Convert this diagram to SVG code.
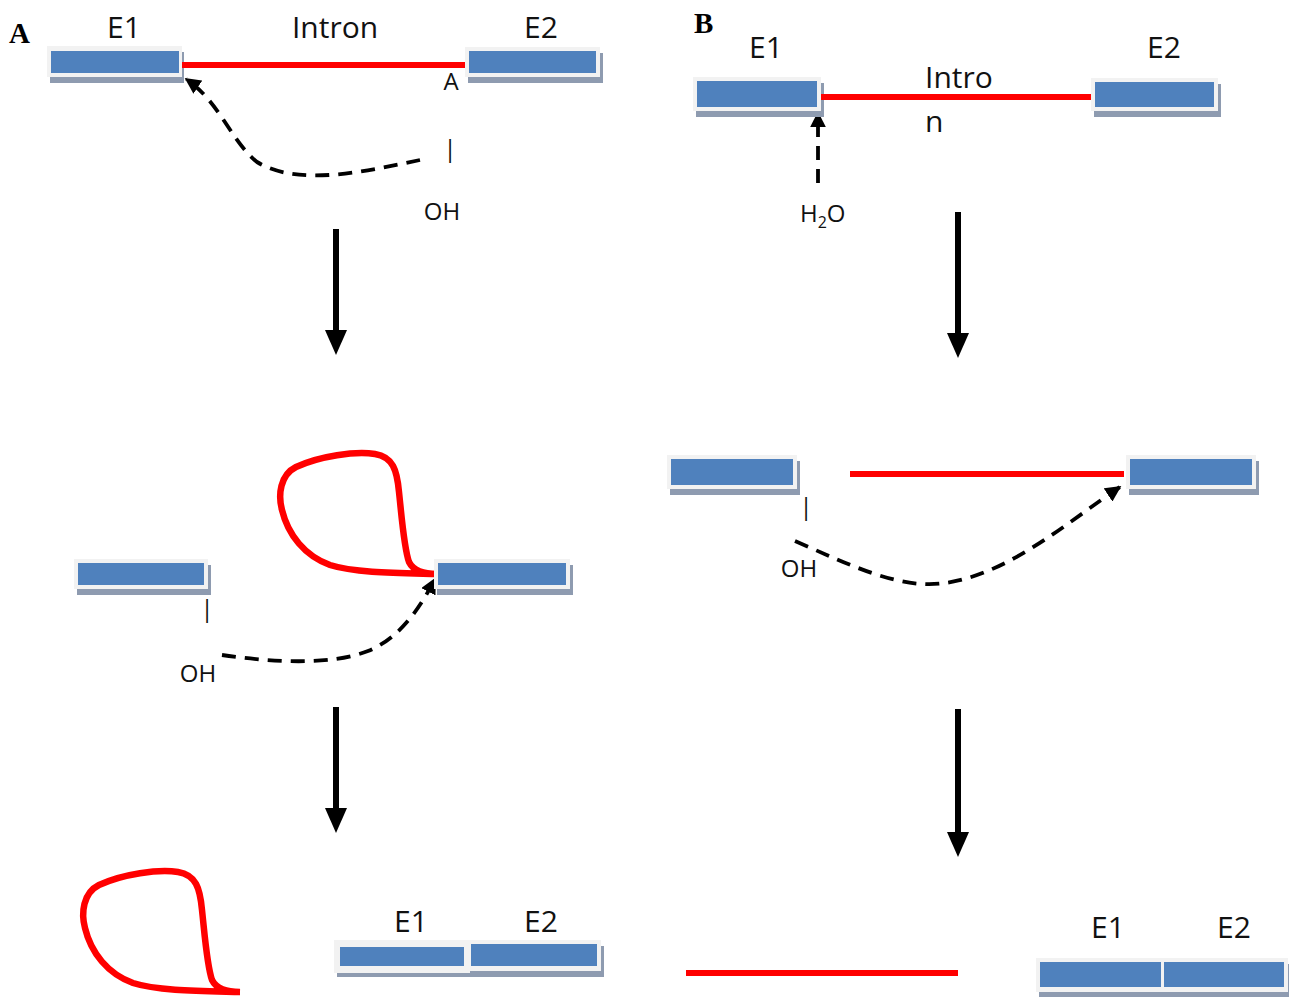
<svg xmlns="http://www.w3.org/2000/svg" width="1289" height="997" viewBox="0 0 1289 997">
<style>
.sh{fill:#8e9bb0}
.fr{fill:#f2f2f2}
.bl{fill:#4f81bd}
.red{stroke:#ff0000;stroke-width:6;fill:none}
.loop{stroke:#ff0000;stroke-width:6.5;fill:none;stroke-linejoin:round}
.dash{stroke:#000;stroke-width:3.8;fill:none;stroke-dasharray:14 9}
.big{stroke:#000;stroke-width:6}
.t{font-family:"Open Sans","DejaVu Sans",sans-serif;fill:#111}
.L{font-size:30px}
.S{font-size:24px}
.P{font-family:"Liberation Serif",serif;font-weight:bold;font-size:29px;fill:#000}
</style>
<defs>
<marker id="ah" viewBox="0 0 10 10" refX="9" refY="5" markerWidth="4.2" markerHeight="4.2" orient="auto" markerUnits="strokeWidth">
<path d="M0,0 L10,5 L0,10 z" fill="#000"/>
</marker>
<path id="lp" d="M437 574 C425 574 414 572 409 562 C404 548 402 520 399 492 C397 470 393 457 375 454 C355 451 320 456 296 467 C280 475 278 495 282 510 C288 535 305 556 330 565 C355 573 400 573 437 574"/>
</defs>

<text class="P" x="9" y="43">A</text>
<text class="P" x="694" y="33">B</text>

<g id="connectors">
<path class="dash" d="M420 160 C370 170 300 188 257 162 C230 140 220 102 186 79" marker-end="url(#ah)"/>
<path class="dash" d="M818 183 L818 113" marker-end="url(#ah)"/>
<path class="dash" d="M222 655 C270 662 330 666 368 651 C400 638 420 608 435 579" marker-end="url(#ah)"/>
<path class="dash" d="M795 541 C850 565 900 590 945 583 C1010 574 1070 520 1120 487" marker-end="url(#ah)"/>
<g id="step-arrows">
<line class="big" x1="336" y1="229" x2="336" y2="333"/><polygon points="325,330 347,330 336,355"/>
<line class="big" x1="958" y1="212" x2="958" y2="336"/><polygon points="947,333 969,333 958,358"/>
<line class="big" x1="336" y1="707" x2="336" y2="811"/><polygon points="325,808 347,808 336,833"/>
<line class="big" x1="958" y1="709" x2="958" y2="835"/><polygon points="947,832 969,832 958,857"/>
</g>
</g>

<g id="A-top">
<g id="A-top-E1"><rect class="sh" x="50" y="52" width="134" height="31"/><rect class="fr" x="47" y="46" width="135" height="31"/><rect class="bl" x="51" y="51" width="128" height="22"/></g>
<line id="A-top-intron" class="red" x1="182" y1="65" x2="466" y2="65"/>
<g id="A-top-E2"><rect class="sh" x="468" y="53" width="135" height="30"/><rect class="fr" x="465" y="47" width="135" height="30"/><rect class="bl" x="469" y="51" width="127" height="22"/></g>
<text class="t L" x="124" y="38" text-anchor="middle">E1</text>
<text class="t L" x="335" y="38" text-anchor="middle">Intron</text>
<text class="t L" x="541" y="38" text-anchor="middle">E2</text>
<text class="t S" x="451" y="90" text-anchor="middle">A</text>
<text class="t S" x="450" y="157" text-anchor="middle">|</text>
<text class="t S" x="442" y="220" text-anchor="middle">OH</text>
</g>

<g id="B-top">
<g id="B-top-E1"><rect class="sh" x="696" y="83" width="128" height="34"/><rect class="fr" x="693" y="77" width="128" height="34"/><rect class="bl" x="697" y="81" width="120" height="26"/></g>
<line id="B-top-intron" class="red" x1="821" y1="97" x2="1091" y2="97"/>
<g id="B-top-E2"><rect class="sh" x="1094" y="84" width="127" height="33"/><rect class="fr" x="1091" y="78" width="127" height="33"/><rect class="bl" x="1095" y="82" width="119" height="25"/></g>
<text class="t L" x="766" y="58" text-anchor="middle">E1</text>
<text class="t L" x="1164" y="58" text-anchor="middle">E2</text>
<text class="t L" x="925" y="88">Intro</text>
<text class="t L" x="925" y="132">n</text>
<text class="t S" x="800" y="222">H<tspan font-size="16" dy="6">2</tspan><tspan dy="-6">O</tspan></text>
</g>

<g id="A-mid">
<g id="A-mid-E1"><rect class="sh" x="77" y="565" width="134" height="30"/><rect class="fr" x="74" y="559" width="134" height="30"/><rect class="bl" x="78" y="563" width="126" height="22"/></g>
<use href="#lp" class="loop"/>
<g id="A-mid-E2"><rect class="sh" x="437" y="565" width="136" height="30"/><rect class="fr" x="434" y="559" width="136" height="30"/><rect class="bl" x="438" y="563" width="128" height="22"/></g>
<text class="t S" x="207" y="617" text-anchor="middle">|</text>
<text class="t S" x="198" y="682" text-anchor="middle">OH</text>
</g>

<g id="B-mid">
<g id="B-mid-E1"><rect class="sh" x="670" y="461" width="130" height="34"/><rect class="fr" x="667" y="455" width="130" height="34"/><rect class="bl" x="671" y="459" width="122" height="26"/></g>
<line id="B-mid-intron" class="red" x1="850" y1="474" x2="1124" y2="474"/>
<g id="B-mid-E2"><rect class="sh" x="1129" y="461" width="130" height="34"/><rect class="fr" x="1126" y="455" width="130" height="34"/><rect class="bl" x="1130" y="459" width="122" height="26"/></g>
<text class="t S" x="806" y="515" text-anchor="middle">|</text>
<text class="t S" x="799" y="577" text-anchor="middle">OH</text>
</g>

<g id="A-bottom">
<use href="#lp" class="loop" transform="translate(-197 418)"/>
<g id="A-bot-E1"><rect class="sh" x="337" y="946" width="138" height="31"/><rect class="fr" x="334" y="940" width="138" height="33"/><rect class="bl" x="340" y="947" width="124" height="19"/></g>
<g id="A-bot-E2"><rect class="sh" x="470" y="946" width="134" height="31"/><rect class="fr" x="467" y="940" width="134" height="31"/><rect class="bl" x="471" y="944" width="126" height="22"/></g>
<text class="t L" x="411" y="932" text-anchor="middle">E1</text>
<text class="t L" x="541" y="932" text-anchor="middle">E2</text>
</g>

<g id="B-bottom">
<line id="B-bot-intron" class="red" x1="686" y1="973" x2="958" y2="973"/>
<g id="B-bot-E1"><rect class="sh" x="1039" y="964" width="126" height="34"/><rect class="fr" x="1036" y="958" width="126" height="34"/><rect class="bl" x="1040" y="962" width="121" height="25"/></g>
<g id="B-bot-E2"><rect class="sh" x="1164" y="964" width="126" height="34"/><rect class="fr" x="1162" y="958" width="126" height="34"/><rect class="bl" x="1164" y="962" width="120" height="25"/></g>
<text class="t L" x="1108" y="938" text-anchor="middle">E1</text>
<text class="t L" x="1234" y="938" text-anchor="middle">E2</text>
</g>
</svg>
